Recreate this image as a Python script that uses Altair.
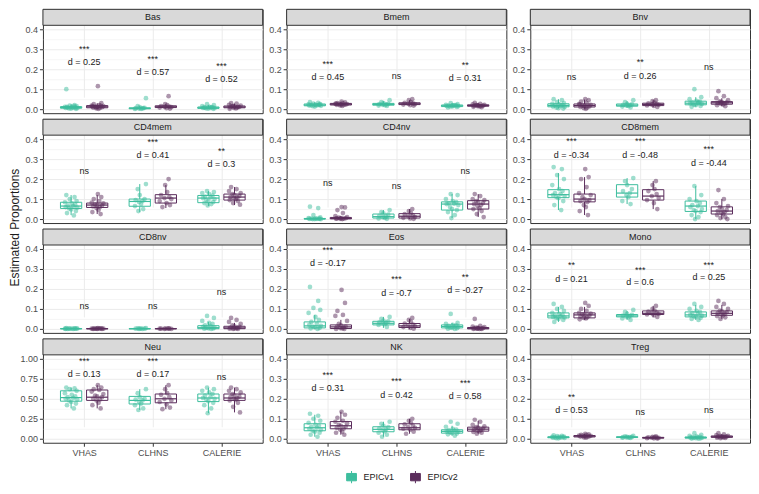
import altair as alt
import pandas as pd

PANELS = ["Bas", "Bmem", "Bnv", "CD4mem", "CD4nv", "CD8mem",
          "CD8nv", "Eos", "Mono", "Neu", "NK", "Treg"]
STUDIES = ["VHAS", "CLHNS", "CALERIE"]
VERSIONS = ["EPICv1", "EPICv2"]
COLORS = ["#3DBE9E", "#5B2D5C"]

# box stats per group: [lower whisker, q1, median, q3, upper whisker]
# group order: VHAS v1, VHAS v2, CLHNS v1, CLHNS v2, CALERIE v1, CALERIE v2
BAS_BOX = [[0.0, 0.005, 0.008, 0.013, 0.025], [0.0, 0.007, 0.012, 0.018, 0.03],
           [0.0, 0.002, 0.004, 0.007, 0.015], [0.002, 0.008, 0.012, 0.017, 0.025],
           [0.0, 0.004, 0.007, 0.011, 0.02], [0.002, 0.007, 0.011, 0.016, 0.028]]
BMEM_BOX = [[0.012, 0.017, 0.021, 0.026, 0.035], [0.015, 0.021, 0.025, 0.029, 0.038],
            [0.015, 0.02, 0.024, 0.029, 0.04], [0.018, 0.023, 0.027, 0.032, 0.045],
            [0.008, 0.013, 0.017, 0.021, 0.03], [0.01, 0.015, 0.018, 0.022, 0.03]]
BNV_BOX = [[0.003, 0.012, 0.019, 0.027, 0.05], [0.002, 0.011, 0.018, 0.026, 0.048],
           [0.008, 0.015, 0.02, 0.026, 0.04], [0.01, 0.018, 0.024, 0.03, 0.045],
           [0.012, 0.022, 0.03, 0.04, 0.06], [0.015, 0.025, 0.032, 0.038, 0.055]]
CD4MEM_BOX = [[0.02, 0.053, 0.065, 0.084, 0.12], [0.025, 0.058, 0.07, 0.08, 0.12],
              [0.035, 0.064, 0.088, 0.1, 0.175], [0.055, 0.08, 0.105, 0.122, 0.17],
              [0.065, 0.082, 0.105, 0.118, 0.14], [0.07, 0.095, 0.11, 0.125, 0.16]]
CD4NV_BOX = [[0.0, 0.0, 0.001, 0.003, 0.007], [0.0, 0.001, 0.003, 0.008, 0.015],
             [0.0, 0.005, 0.012, 0.025, 0.045], [0.0, 0.005, 0.014, 0.027, 0.05],
             [0.005, 0.045, 0.075, 0.086, 0.125], [0.01, 0.05, 0.075, 0.092, 0.125]]
CD8MEM_BOX = [[0.045, 0.107, 0.122, 0.147, 0.23], [0.02, 0.086, 0.1, 0.125, 0.21],
              [0.075, 0.11, 0.13, 0.172, 0.205], [0.05, 0.095, 0.115, 0.147, 0.19],
              [0.0, 0.038, 0.065, 0.09, 0.165], [0.0, 0.025, 0.04, 0.061, 0.1]]
CD8NV_BOX = [[0.0, 0.0, 0.001, 0.002, 0.004], [0.0, 0.0, 0.001, 0.002, 0.004],
             [0.0, 0.0, 0.001, 0.002, 0.004], [0.0, 0.0, 0.001, 0.002, 0.003],
             [0.0, 0.001, 0.006, 0.016, 0.035], [0.0, 0.001, 0.005, 0.013, 0.03]]
EOS_BOX = [[0.0, 0.005, 0.015, 0.035, 0.07], [0.0, 0.002, 0.01, 0.02, 0.045],
           [0.005, 0.02, 0.028, 0.038, 0.06], [0.0, 0.007, 0.015, 0.027, 0.05],
           [0.0, 0.005, 0.012, 0.02, 0.03], [0.0, 0.0, 0.003, 0.007, 0.015]]
MONO_BOX = [[0.035, 0.055, 0.065, 0.08, 0.11], [0.045, 0.055, 0.07, 0.08, 0.11],
            [0.045, 0.06, 0.065, 0.072, 0.09], [0.06, 0.072, 0.078, 0.09, 0.115],
            [0.045, 0.06, 0.07, 0.085, 0.12], [0.05, 0.068, 0.078, 0.09, 0.12]]
NEU_BOX = [[0.38, 0.47, 0.515, 0.6, 0.64], [0.38, 0.48, 0.52, 0.61, 0.67],
           [0.36, 0.435, 0.48, 0.53, 0.62], [0.37, 0.45, 0.5, 0.56, 0.67],
           [0.32, 0.465, 0.51, 0.56, 0.64], [0.33, 0.48, 0.51, 0.56, 0.64]]
NK_BOX = [[0.01, 0.04, 0.055, 0.075, 0.12], [0.02, 0.05, 0.065, 0.086, 0.135],
          [0.01, 0.035, 0.047, 0.06, 0.085], [0.025, 0.045, 0.055, 0.075, 0.1],
          [0.015, 0.028, 0.037, 0.045, 0.065], [0.025, 0.038, 0.048, 0.058, 0.09]]
TREG_BOX = [[0.002, 0.005, 0.007, 0.01, 0.015], [0.005, 0.009, 0.013, 0.016, 0.025],
            [0.004, 0.006, 0.008, 0.01, 0.013], [0.001, 0.003, 0.005, 0.007, 0.01],
            [0.0, 0.003, 0.006, 0.009, 0.015], [0.003, 0.007, 0.01, 0.014, 0.022]]

# individual sample proportions per group (same group order)
BAS_PTS = [[0.1, 0.02, 0.018, 0.015, 0.012, 0.01, 0.009, 0.008, 0.007, 0.006, 0.005, 0.004, 0.003, 0.002, 0.012, 0.016],
           [0.115, 0.03, 0.025, 0.02, 0.018, 0.015, 0.013, 0.012, 0.01, 0.008, 0.006, 0.004, 0.002, 0.014, 0.017, 0.009],
           [0.055, 0.015, 0.01, 0.007, 0.005, 0.004, 0.003, 0.002, 0.001, 0.006],
           [0.065, 0.025, 0.02, 0.016, 0.013, 0.012, 0.01, 0.008, 0.005, 0.003],
           [0.025, 0.02, 0.015, 0.012, 0.01, 0.008, 0.007, 0.006, 0.005, 0.004, 0.003, 0.002, 0.009, 0.011],
           [0.03, 0.028, 0.022, 0.018, 0.015, 0.013, 0.011, 0.01, 0.008, 0.006, 0.004, 0.002, 0.012, 0.016]]
BMEM_PTS = [[0.035, 0.032, 0.028, 0.026, 0.024, 0.022, 0.021, 0.02, 0.019, 0.018, 0.017, 0.015, 0.013, 0.023],
            [0.038, 0.034, 0.03, 0.029, 0.027, 0.026, 0.025, 0.024, 0.023, 0.022, 0.021, 0.019, 0.016, 0.028],
            [0.045, 0.035, 0.03, 0.027, 0.025, 0.024, 0.022, 0.02, 0.018, 0.016],
            [0.05, 0.045, 0.035, 0.032, 0.029, 0.027, 0.025, 0.023, 0.02, 0.018],
            [0.03, 0.025, 0.022, 0.02, 0.019, 0.018, 0.017, 0.016, 0.015, 0.014, 0.013, 0.011, 0.009, 0.021],
            [0.032, 0.027, 0.024, 0.022, 0.02, 0.019, 0.018, 0.017, 0.016, 0.015, 0.014, 0.012, 0.01, 0.021]]
BNV_PTS = [[0.05, 0.045, 0.035, 0.03, 0.027, 0.024, 0.021, 0.019, 0.016, 0.013, 0.011, 0.008, 0.005, 0.003],
           [0.05, 0.045, 0.038, 0.03, 0.026, 0.022, 0.019, 0.017, 0.014, 0.011, 0.008, 0.005, 0.002, 0.024],
           [0.045, 0.035, 0.027, 0.024, 0.021, 0.02, 0.018, 0.016, 0.013, 0.009],
           [0.045, 0.04, 0.033, 0.029, 0.026, 0.024, 0.022, 0.019, 0.016, 0.011],
           [0.1, 0.06, 0.05, 0.042, 0.038, 0.034, 0.031, 0.029, 0.026, 0.023, 0.02, 0.016, 0.012, 0.035],
           [0.09, 0.065, 0.055, 0.045, 0.039, 0.036, 0.033, 0.031, 0.029, 0.027, 0.024, 0.02, 0.015, 0.034]]
CD4MEM_PTS = [[0.12, 0.11, 0.1, 0.09, 0.084, 0.078, 0.072, 0.068, 0.065, 0.06, 0.057, 0.053, 0.048, 0.04, 0.03, 0.018],
              [0.125, 0.11, 0.1, 0.09, 0.082, 0.078, 0.074, 0.07, 0.067, 0.063, 0.06, 0.055, 0.045, 0.035, 0.025],
              [0.175, 0.15, 0.12, 0.1, 0.095, 0.09, 0.085, 0.075, 0.065, 0.05, 0.04],
              [0.2, 0.17, 0.135, 0.12, 0.11, 0.105, 0.1, 0.09, 0.08, 0.07, 0.06],
              [0.14, 0.135, 0.13, 0.125, 0.118, 0.112, 0.108, 0.105, 0.1, 0.095, 0.09, 0.085, 0.08, 0.075, 0.068],
              [0.16, 0.15, 0.14, 0.13, 0.125, 0.12, 0.115, 0.11, 0.108, 0.104, 0.1, 0.095, 0.09, 0.08, 0.072]]
CD4NV_PTS = [[0.062, 0.055, 0.02, 0.008, 0.005, 0.003, 0.002, 0.002, 0.001, 0.001, 0.0, 0.0, 0.0, 0.001],
             [0.06, 0.058, 0.045, 0.03, 0.015, 0.01, 0.007, 0.005, 0.004, 0.003, 0.002, 0.001, 0.0, 0.002],
             [0.045, 0.035, 0.028, 0.022, 0.016, 0.012, 0.009, 0.006, 0.003, 0.001],
             [0.05, 0.04, 0.03, 0.025, 0.019, 0.014, 0.01, 0.006, 0.003, 0.001],
             [0.125, 0.12, 0.1, 0.09, 0.085, 0.08, 0.077, 0.075, 0.07, 0.06, 0.05, 0.045, 0.035, 0.02, 0.005],
             [0.125, 0.115, 0.1, 0.095, 0.09, 0.085, 0.08, 0.075, 0.07, 0.065, 0.055, 0.05, 0.04, 0.025, 0.01]]
CD8MEM_PTS = [[0.26, 0.25, 0.22, 0.2, 0.17, 0.15, 0.14, 0.13, 0.125, 0.12, 0.115, 0.11, 0.105, 0.09, 0.07, 0.045],
              [0.25, 0.21, 0.2, 0.16, 0.13, 0.12, 0.11, 0.1, 0.095, 0.09, 0.085, 0.07, 0.06, 0.04, 0.02],
              [0.205, 0.19, 0.17, 0.15, 0.14, 0.13, 0.12, 0.11, 0.09, 0.075],
              [0.19, 0.17, 0.15, 0.14, 0.125, 0.115, 0.105, 0.095, 0.08, 0.05],
              [0.165, 0.12, 0.1, 0.09, 0.08, 0.07, 0.065, 0.06, 0.05, 0.045, 0.04, 0.035, 0.02, 0.01, 0.0],
              [0.145, 0.1, 0.08, 0.065, 0.06, 0.05, 0.045, 0.04, 0.035, 0.03, 0.025, 0.02, 0.01, 0.005, 0.0]]
CD8NV_PTS = [[0.004, 0.003, 0.002, 0.002, 0.001, 0.001, 0.001, 0.0, 0.0, 0.0, 0.002, 0.001],
             [0.004, 0.003, 0.002, 0.002, 0.001, 0.001, 0.001, 0.0, 0.0, 0.0, 0.002, 0.001],
             [0.004, 0.003, 0.002, 0.001, 0.001, 0.0, 0.0, 0.002],
             [0.003, 0.002, 0.002, 0.001, 0.001, 0.0, 0.0, 0.001],
             [0.065, 0.055, 0.04, 0.03, 0.025, 0.018, 0.014, 0.01, 0.007, 0.005, 0.003, 0.002, 0.001, 0.0],
             [0.055, 0.045, 0.035, 0.025, 0.018, 0.013, 0.01, 0.007, 0.005, 0.003, 0.002, 0.001, 0.0, 0.0]]
EOS_PTS = [[0.21, 0.14, 0.105, 0.095, 0.08, 0.06, 0.045, 0.035, 0.025, 0.02, 0.015, 0.012, 0.008, 0.005, 0.002, 0.0],
           [0.195, 0.13, 0.09, 0.07, 0.065, 0.04, 0.025, 0.018, 0.012, 0.01, 0.007, 0.004, 0.002, 0.0, 0.0],
           [0.06, 0.05, 0.042, 0.038, 0.033, 0.03, 0.027, 0.024, 0.02, 0.01],
           [0.055, 0.045, 0.035, 0.027, 0.022, 0.017, 0.013, 0.009, 0.005, 0.001],
           [0.075, 0.03, 0.025, 0.02, 0.018, 0.015, 0.013, 0.011, 0.009, 0.007, 0.005, 0.003, 0.001, 0.0],
           [0.05, 0.015, 0.012, 0.009, 0.007, 0.005, 0.004, 0.003, 0.002, 0.001, 0.0, 0.0, 0.0, 0.001]]
MONO_PTS = [[0.125, 0.11, 0.1, 0.09, 0.08, 0.075, 0.07, 0.066, 0.063, 0.06, 0.057, 0.054, 0.05, 0.045, 0.035],
            [0.13, 0.115, 0.1, 0.09, 0.08, 0.077, 0.073, 0.07, 0.066, 0.062, 0.058, 0.055, 0.052, 0.048],
            [0.095, 0.085, 0.075, 0.07, 0.067, 0.064, 0.061, 0.058, 0.052, 0.045],
            [0.115, 0.1, 0.092, 0.087, 0.082, 0.078, 0.075, 0.072, 0.067, 0.06],
            [0.125, 0.11, 0.1, 0.09, 0.085, 0.08, 0.075, 0.07, 0.066, 0.063, 0.06, 0.055, 0.05, 0.045],
            [0.14, 0.125, 0.11, 0.1, 0.092, 0.088, 0.083, 0.079, 0.076, 0.072, 0.068, 0.064, 0.058, 0.05]]
NEU_PTS = [[0.64, 0.63, 0.62, 0.6, 0.57, 0.55, 0.53, 0.52, 0.51, 0.5, 0.49, 0.48, 0.46, 0.44, 0.42, 0.38],
           [0.67, 0.64, 0.62, 0.61, 0.59, 0.56, 0.54, 0.53, 0.52, 0.5, 0.49, 0.48, 0.45, 0.42, 0.38],
           [0.62, 0.57, 0.52, 0.5, 0.49, 0.48, 0.46, 0.44, 0.42, 0.38, 0.36],
           [0.67, 0.62, 0.57, 0.55, 0.52, 0.5, 0.48, 0.46, 0.43, 0.39, 0.37],
           [0.64, 0.62, 0.6, 0.58, 0.56, 0.54, 0.52, 0.51, 0.5, 0.49, 0.47, 0.45, 0.42, 0.38, 0.32],
           [0.64, 0.62, 0.6, 0.58, 0.56, 0.54, 0.53, 0.52, 0.51, 0.5, 0.49, 0.48, 0.45, 0.4, 0.33]]
NK_PTS = [[0.125, 0.115, 0.1, 0.09, 0.08, 0.07, 0.065, 0.06, 0.055, 0.05, 0.045, 0.04, 0.035, 0.03, 0.02, 0.01],
          [0.135, 0.12, 0.105, 0.09, 0.085, 0.078, 0.07, 0.065, 0.06, 0.055, 0.05, 0.045, 0.035, 0.03, 0.02],
          [0.085, 0.075, 0.065, 0.058, 0.052, 0.047, 0.042, 0.037, 0.03, 0.02, 0.01],
          [0.1, 0.09, 0.08, 0.072, 0.065, 0.058, 0.054, 0.05, 0.045, 0.035, 0.025],
          [0.085, 0.075, 0.06, 0.05, 0.046, 0.043, 0.04, 0.037, 0.035, 0.032, 0.029, 0.026, 0.022, 0.015],
          [0.095, 0.085, 0.07, 0.062, 0.058, 0.054, 0.05, 0.047, 0.044, 0.041, 0.038, 0.034, 0.03, 0.025]]
TREG_PTS = [[0.017, 0.015, 0.013, 0.011, 0.01, 0.009, 0.008, 0.007, 0.006, 0.005, 0.004, 0.003, 0.002],
            [0.025, 0.022, 0.02, 0.018, 0.016, 0.015, 0.014, 0.013, 0.012, 0.011, 0.009, 0.007, 0.005],
            [0.014, 0.012, 0.01, 0.009, 0.008, 0.008, 0.007, 0.006, 0.005, 0.004],
            [0.012, 0.01, 0.008, 0.007, 0.006, 0.005, 0.004, 0.003, 0.002, 0.001],
            [0.028, 0.02, 0.015, 0.012, 0.01, 0.008, 0.007, 0.006, 0.005, 0.004, 0.003, 0.002, 0.001, 0.0],
            [0.028, 0.022, 0.018, 0.015, 0.013, 0.012, 0.011, 0.01, 0.009, 0.008, 0.007, 0.005, 0.004, 0.003]]

# significance stars and effect-size labels (VHAS, CLHNS, CALERIE), with their y values
STAR_TEXT = [["***", "***", "***"], ["***", "", "**"], ["", "**", ""], ["", "***", "**"],
             ["", "", ""], ["***", "***", "***"], ["", "", ""], ["***", "***", "**"],
             ["**", "***", "***"], ["***", "***", ""], ["***", "***", "***"], ["**", "", ""]]
STAR_Y = [[0.313, 0.263, 0.23], [0.238, 0, 0.233], [0, 0.247, 0], [0, 0.397, 0.354],
          [0, 0, 0], [0.405, 0.405, 0.362], [0, 0, 0], [0.408, 0.26, 0.274],
          [0.33, 0.309, 0.334], [1.0, 1.0, 0], [0.334, 0.3, 0.291], [0.222, 0, 0]]
LABEL_TEXT = [["d = 0.25", "d = 0.57", "d = 0.52"], ["d = 0.45", "ns", "d = 0.31"],
              ["ns", "d = 0.26", "ns"], ["ns", "d = 0.41", "d = 0.3"], ["ns", "ns", "ns"],
              ["d = -0.34", "d = -0.48", "d = -0.44"], ["ns", "ns", "ns"],
              ["d = -0.17", "d = -0.7", "d = -0.27"], ["d = 0.21", "d = 0.6", "d = 0.25"],
              ["d = 0.13", "d = 0.17", "ns"], ["d = 0.31", "d = 0.42", "d = 0.58"],
              ["d = 0.53", "ns", "ns"]]
LABEL_Y = [[0.235, 0.185, 0.15], [0.16, 0.167, 0.155], [0.163, 0.167, 0.213],
           [0.241, 0.32, 0.274], [0.182, 0.164, 0.241], [0.32, 0.32, 0.281],
           [0.116, 0.116, 0.185], [0.33, 0.182, 0.195], [0.251, 0.235, 0.258],
           [0.81, 0.81, 0.77], [0.253, 0.22, 0.214], [0.146, 0.135, 0.146]]

BOXES = [BAS_BOX, BMEM_BOX, BNV_BOX, CD4MEM_BOX, CD4NV_BOX, CD8MEM_BOX,
         CD8NV_BOX, EOS_BOX, MONO_BOX, NEU_BOX, NK_BOX, TREG_BOX]
POINTS = [BAS_PTS, BMEM_PTS, BNV_PTS, CD4MEM_PTS, CD4NV_PTS, CD8MEM_PTS,
          CD8NV_PTS, EOS_PTS, MONO_PTS, NEU_PTS, NK_PTS, TREG_PTS]

# ---- layout / style constants ----
W, H, SH = 220, 88, 16          # panel width, plot height, strip height
DODGE = [-0.19, 0.19]
HALF_BOX = 0.155
JITTER = [-0.07, 0.05, -0.02, 0.08, -0.09, 0.01, 0.06, -0.05, 0.03, -0.08,
          0.09, -0.03, 0.0, 0.07, -0.06, 0.04, -0.01, 0.02]
FONT = "Liberation Sans"
GRID = "#EBEBEB"
BORDER = "#333333"

stroke_enc = alt.Stroke(
    "version:N",
    scale=alt.Scale(domain=VERSIONS, range=COLORS),
    title=None,
    legend=alt.Legend(
        orient="none", legendX=302, legendY=461, direction="horizontal",
        symbolType="M-0.8,-0.6H0.8V0.6H-0.8Z M-0.8,0H0.8 M0,-0.6V-1 M0,0.6V1",
        symbolSize=150, symbolStrokeWidth=1, symbolFillColor="white",
        labelFontSize=9, labelColor="#1A1A1A", labelFont=FONT,
        columnPadding=14, labelOffset=5,
    ),
)
color_enc = alt.Color("version:N", scale=alt.Scale(domain=VERSIONS, range=COLORS), legend=None)


def make_panel(i, name):
    box_rows, pt_rows, star_rows, lab_rows = [], [], [], []
    for g, stats in enumerate(BOXES[i]):
        s, v = divmod(g, 2)
        pos = s + 1 + DODGE[v]
        box_rows.append(dict(version=VERSIONS[v], pos=pos, xa=pos - HALF_BOX, xb=pos + HALF_BOX,
                             lo=stats[0], q1=stats[1], med=stats[2], q3=stats[3], hi=stats[4]))
        for k, val in enumerate(POINTS[i][g]):
            pt_rows.append(dict(version=VERSIONS[v], px=pos + JITTER[(k + g * 5) % len(JITTER)], value=val))
    for s in range(3):
        if STAR_TEXT[i][s]:
            star_rows.append(dict(pos=s + 1, y=STAR_Y[i][s], t=STAR_TEXT[i][s]))
        lab_rows.append(dict(pos=s + 1, y=LABEL_Y[i][s], t=LABEL_TEXT[i][s]))
    boxes = pd.DataFrame(box_rows)
    pts = pd.DataFrame(pt_rows)
    stars = pd.DataFrame(star_rows) if star_rows else pd.DataFrame(dict(pos=[1], y=[0.0], t=[""]))
    labs = pd.DataFrame(lab_rows)

    neu = name == "Neu"
    step = 0.25 if neu else 0.1
    top = 1.0 if neu else 0.4
    dom = [-0.05, 1.05] if neu else [-0.02, 0.42]
    n = int(round(top / (step / 2)))
    vals = [round(k * step / 2, 4) for k in range(n + 1)]
    fmt = ".2f" if neu else ".1f"
    minor = f"abs(datum.value/{step} - round(datum.value/{step})) > 0.001"
    yaxis_kw = dict(
        values=vals, labelExpr=f"{minor} ? '' : format(datum.value, '{fmt}')",
        labelOverlap=False, labelFlush=False, domain=False,
        gridColor=GRID, gridWidth={"condition": {"test": minor, "value": 0.5}, "value": 1.0},
        tickOpacity={"condition": {"test": minor, "value": 0}, "value": 1},
        tickColor=BORDER, tickSize=3.5, labelPadding=2,
        labelFontSize=9, labelColor="#4D4D4D", labelFont=FONT,
    )
    if name == "CD4mem":
        yaxis = alt.Axis(title="Estimated Proportions", titleFontSize=12, titleFontWeight="normal",
                         titleColor="#1A1A1A", titleFont=FONT, titlePadding=3, titleY=108, **yaxis_kw)
    else:
        yaxis = alt.Axis(title=None, **yaxis_kw)
    # the strip occupies the top SH pixels of the view; the data range sits below it
    yscale = alt.Scale(domain=dom, nice=False, zero=False, range=[SH + H, SH])

    bottom = i >= 9
    xlab = "[" + ",".join(f"'{s}'" for s in STUDIES) + "][round(datum.value) - 1]"
    if bottom:
        xaxis = alt.Axis(title=None, values=[1, 2, 3], labelExpr=xlab, domain=False,
                         gridColor=GRID, gridWidth=1, tickColor=BORDER, tickSize=3.5,
                         labelPadding=2, labelFontSize=9, labelColor="#4D4D4D", labelFont=FONT,
                         labelFlush=False, labelOverlap=False)
    else:
        xaxis = alt.Axis(title=None, values=[1, 2, 3], labels=False, ticks=False, domain=False,
                         gridColor=GRID, gridWidth=1)
    xscale = alt.Scale(domain=[0.4, 3.6], nice=False, zero=False)

    base_box = alt.Chart(boxes)
    wlo = base_box.mark_rule(strokeWidth=1).encode(
        x=alt.X("pos:Q", scale=xscale, axis=xaxis),
        y=alt.Y("lo:Q", scale=yscale, axis=yaxis), y2="q1:Q", stroke=stroke_enc)
    whi = base_box.mark_rule(strokeWidth=1).encode(
        x=alt.X("pos:Q", scale=xscale, axis=xaxis),
        y=alt.Y("q3:Q", scale=yscale, axis=yaxis), y2="hi:Q", stroke=stroke_enc)
    rect = base_box.mark_rect(fill="white", strokeWidth=1).encode(
        x=alt.X("xa:Q", scale=xscale, axis=xaxis), x2="xb:Q",
        y=alt.Y("q1:Q", scale=yscale, axis=yaxis), y2="q3:Q", stroke=stroke_enc)
    med = base_box.mark_rule(strokeWidth=1.2).encode(
        x=alt.X("xa:Q", scale=xscale, axis=xaxis), x2="xb:Q",
        y=alt.Y("med:Q", scale=yscale, axis=yaxis), stroke=stroke_enc)
    points = alt.Chart(pts).mark_circle(size=22, opacity=0.5).encode(
        x=alt.X("px:Q", scale=xscale, axis=xaxis),
        y=alt.Y("value:Q", scale=yscale, axis=yaxis), color=color_enc)
    star = alt.Chart(stars).mark_text(fontSize=9, color="#1A1A1A", dy=2.5, font=FONT).encode(
        x=alt.X("pos:Q", scale=xscale, axis=xaxis),
        y=alt.Y("y:Q", scale=yscale, axis=yaxis), text="t:N")
    lab = alt.Chart(labs).mark_text(fontSize=9, color="#1A1A1A", font=FONT).encode(
        x=alt.X("pos:Q", scale=xscale, axis=xaxis),
        y=alt.Y("y:Q", scale=yscale, axis=yaxis), text="t:N")

    strip_df = pd.DataFrame(dict(panel=[name]))
    strip_bg = alt.Chart(strip_df).mark_rect(fill="#D9D9D9", stroke=BORDER, strokeWidth=1).encode(
        x=alt.value(0), x2=alt.value(W), y=alt.value(0), y2=alt.value(SH))
    strip_txt = alt.Chart(strip_df).mark_text(fontSize=9, color="#1A1A1A", font=FONT).encode(
        x=alt.value(W / 2), y=alt.value(SH / 2), text="panel:N")

    return alt.layer(wlo, whi, rect, med, points, star, lab, strip_bg, strip_txt).properties(
        width=W, height=H + SH)


panels = [make_panel(i, p) for i, p in enumerate(PANELS)]
chart = alt.concat(*panels, columns=3, spacing=alt.RowColnumber(row=6, column=24),
                   bounds="flush").properties(padding=0).configure(font=FONT).configure_view(
    stroke=BORDER, strokeWidth=1)

chart.save("out.html", embed_options={"renderer": "svg", "actions": False})
